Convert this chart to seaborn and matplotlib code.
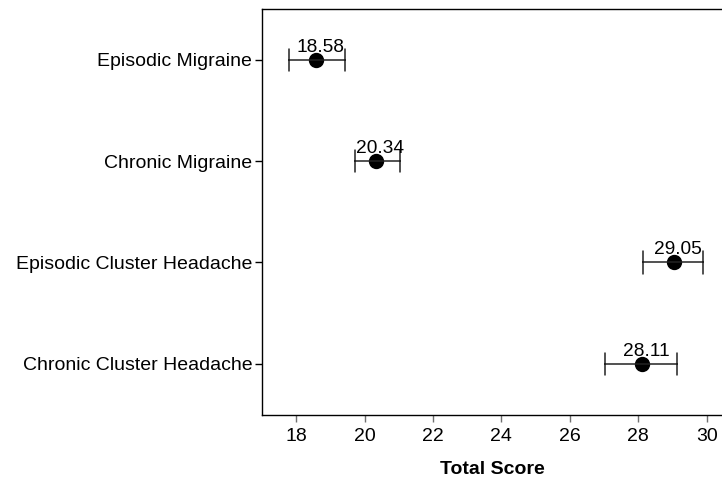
import pandas as pd
import numpy as np
import matplotlib
matplotlib.use('Agg')
import matplotlib.pyplot as plt
import seaborn as sns

sns.set_style('ticks')
plt.rcParams['font.family'] = ['Liberation Sans', 'DejaVu Sans']
plt.rcParams['text.color'] = 'black'
plt.rcParams['axes.labelcolor'] = 'black'

groups = ['Episodic Migraine', 'Chronic Migraine',
          'Episodic Cluster Headache', 'Chronic Cluster Headache']
means = [18.58, 20.34, 29.05, 28.11]
lower = [17.80, 19.73, 28.15, 27.03]
upper = [19.43, 21.03, 29.90, 29.14]

# lower / mean / upper per group -> point at median, bars from min to max
rows = []
for g, lo, m, hi in zip(groups, lower, means, upper):
    for v in (lo, m, hi):
        rows.append({'Group': g, 'Total Score': v})
df = pd.DataFrame(rows)

fig = plt.figure(figsize=(7.22, 4.78), dpi=100)
ax = fig.add_axes([262/722, 1-414.5/478, 1-262/722, 405.5/478])

sns.pointplot(data=df, x='Total Score', y='Group', order=groups,
              estimator='median', errorbar=lambda v: (v.min(), v.max()),
              linestyle='none', color='black', markersize=9,
              capsize=0.22, err_kws={'linewidth': 1.1, 'color': '#222222'},
              orient='h', ax=ax)

for i, m in enumerate(means):
    ax.annotate(f'{m:.2f}', xy=(m, i), xytext=(4, 8), textcoords='offset pixels',
                ha='center', va='baseline', fontsize=13.8, color='black')

ax.set_xlim(17, 30.45)
ax.set_xticks([18, 20, 22, 24, 26, 28, 30])
ax.set_ylim(3.5, -0.5)
ax.set_ylabel('')
ax.set_xlabel('Total Score', fontsize=14, fontweight='bold', labelpad=12)
ax.tick_params(axis='both', labelsize=14, length=5, width=1, labelcolor='black')
ax.tick_params(axis='x', colors='#707070', labelcolor='black', pad=4.5)
ax.tick_params(axis='y', colors='black', pad=2)
ax.spines['right'].set_visible(False)
for s in ('left', 'top', 'bottom'):
    ax.spines[s].set_color('black')
    ax.spines[s].set_linewidth(1)

fig.savefig('out.png', dpi=100)
